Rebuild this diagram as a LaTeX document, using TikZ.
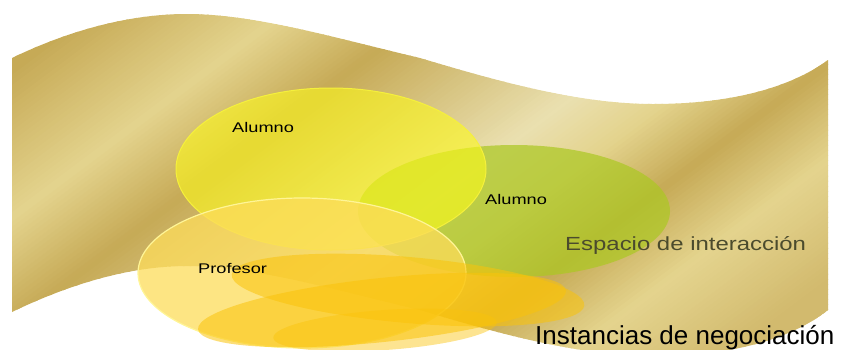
\documentclass[tikz,border=0pt]{standalone}
\usepackage{fontspec}
\setmainfont{Liberation Sans}
\usepackage{graphicx}
\definecolor{fdk}{RGB}{198,170,86}
\definecolor{flt}{RGB}{228,212,142}
\definecolor{fpl}{RGB}{234,224,176}
\definecolor{fmd}{RGB}{210,186,110}
\definecolor{yel}{RGB}{255,252,25}
\definecolor{yelb}{RGB}{245,240,60}
\definecolor{grn}{RGB}{172,200,35}
\definecolor{prf}{RGB}{253,220,90}
\definecolor{prfb}{RGB}{255,245,150}
\definecolor{org}{RGB}{250,195,10}
\definecolor{esp}{RGB}{75,75,45}
\begin{document}
\begin{tikzpicture}[x=1pt,y=-1pt,
  lbl/.style={inner sep=0pt,anchor=base west,font=\fontsize{14}{16}\selectfont},
  big/.style={inner sep=0pt,anchor=base west},
  blob/.style={fill=org,opacity=0.55}]
\useasboundingbox (0,0) rectangle (843,349);
\clip (0,0) rectangle (843,349);
% flag
\begin{scope}
\clip (12,58) .. controls (70,30) and (130,14) .. (187,14)
  .. controls (255,14) and (335,38) .. (420,58)
  .. controls (500,82) and (580,104) .. (653,104)
  .. controls (730,104) and (790,88) .. (828,60)
  -- (828,310)
  .. controls (790,340) and (730,356) .. (653,356)
  .. controls (580,356) and (500,334) .. (420,310)
  .. controls (335,290) and (255,266) .. (187,266)
  .. controls (130,266) and (70,284) .. (12,312) -- cycle;
\foreach \pa/\pb/\ca/\cb in {0/63/fdk/fdk,63/181/fdk/flt,181/266/flt/fdk,266/420/fdk/fpl,420/480/fpl/flt,480/548/flt/fdk,548/625/fdk/flt,625/720/flt/fmd,720/820/fmd/fmd}{
  \pgfmathtruncatemacro\n{(\pb-\pa)/4}
  \foreach \k in {1,...,\n}{
    \pgfmathsetmacro\q{\pa+(\k-1)*(\pb-\pa)/\n}
    \pgfmathsetmacro\qq{\q+(\pb-\pa)/\n+0.8}
    \pgfmathtruncatemacro\pct{100*(\k-0.5)/\n}
    \fill[\cb!\pct!\ca] ({0.6*\q-960},{0.8*\q+720}) -- ({0.6*\q+960},{0.8*\q-720})
      -- ({0.6*\qq+960},{0.8*\qq-720}) -- ({0.6*\qq-960},{0.8*\qq+720}) -- cycle;
  }
}
\end{scope}
% ellipses
\fill[grn,opacity=0.72] (514,211) ellipse [x radius=156,y radius=66];
\draw[yelb,line width=1pt,fill=yel,fill opacity=0.58] (331,169) ellipse [x radius=155,y radius=81];
\draw[prfb,line width=1.2pt,fill=prf,fill opacity=0.75] (302,273) ellipse [x radius=164,y radius=75];
\fill[blob,rotate around={-5:(408,290)}] (408,290) ellipse [x radius=177,y radius=33];
\fill[blob,rotate around={6:(382,310)}] (382,310) ellipse [x radius=185,y radius=32];
\fill[blob,opacity=0.45,rotate around={4:(385,330)}] (385,330) ellipse [x radius=112,y radius=20];
% labels
\node[lbl] (al1) at (232,132) {\scalebox{1.3}[1]{Alumno}};
\node[lbl] (al2) at (485,204) {\scalebox{1.3}[1]{Alumno}};
\node[lbl] (prof) at (198,273) {\scalebox{1.3}[1]{Profesor}};
\node[big,text=esp,font=\fontsize{19}{22}\selectfont] (esp) at (565,250) {\scalebox{1.26}[1]{Espacio de interacción}};
\node[big,font=\fontsize{26}{30}\selectfont] (inst) at (535,344) {Instancias de negociación};
\end{tikzpicture}
\end{document}
